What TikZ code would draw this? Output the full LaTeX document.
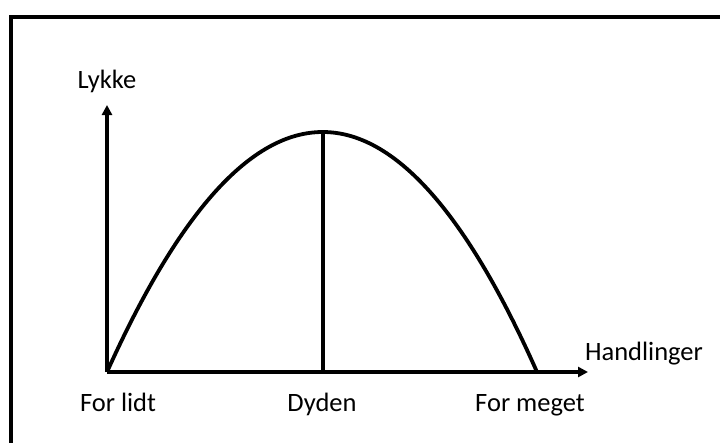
\documentclass[tikz,border=0pt]{standalone}
\usepackage{fontspec}
\setmainfont{Carlito}
\usetikzlibrary{arrows.meta}
\begin{document}
\begin{tikzpicture}[x=1pt,y=-1pt,
  lbl/.style={font=\fontsize{26.5}{30}\selectfont, inner sep=0pt, anchor=base},
  axis/.style={line width=3.8pt, -{Triangle[length=10pt,width=10pt]}},
  thick line/.style={line width=3.8pt}]
\useasboundingbox (0,0) rectangle (720,442);
\clip (0,0) rectangle (720,442);
\fill[white] (0,0) rectangle (720,442);
\draw[thick line] (11,17) rectangle (760,480);
\coordinate (O) at (107,372);
\coordinate (Y) at (107,105);
\coordinate (X) at (588,372);
\coordinate (P) at (323,132);
\coordinate (F) at (323,372);
\coordinate (E) at (537,372);
\draw[axis] (O) -- (Y);
\draw[axis] (O) -- (X);
\draw[thick line, line join=round] (O) .. controls (251,52) and (395,52) .. (E);
\draw[thick line] (P) -- (F);
\node[lbl] (lykke) at (107,88) {Lykke};
\node[lbl] (handl) at (644,360) {Handlinger};
\node[lbl] (lidt) at (118,411) {For lidt};
\node[lbl] (dyden) at (322,411) {Dyden};
\node[lbl] (meget) at (530,411) {For meget};
\end{tikzpicture}
\end{document}
